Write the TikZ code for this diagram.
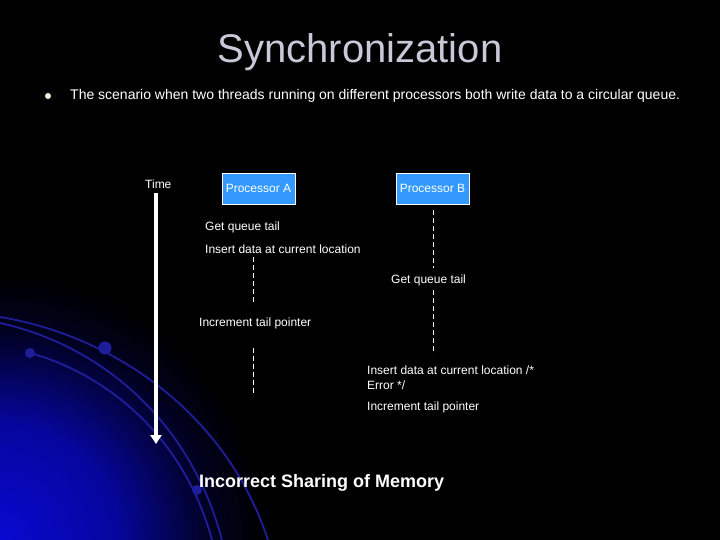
\documentclass[tikz,border=0pt]{standalone}
\usepackage{fontspec}
\setmainfont{Liberation Sans}
\usepackage{xcolor}
\usetikzlibrary{positioning,arrows.meta}

\definecolor{titlegray}{RGB}{200,200,216}
\definecolor{procblue}{RGB}{51,153,255}
\definecolor{glowblue}{RGB}{8,8,210}
\definecolor{arcblue}{RGB}{30,30,155}
\definecolor{dotcream}{RGB}{240,240,215}
\pgfdeclareradialshading{cornerglow}{\pgfpoint{0bp}{0bp}}{color(0bp)=(glowblue); color(11bp)=(glowblue!75!black); color(20bp)=(glowblue!15!black); color(25bp)=(black); color(50bp)=(black)}

\begin{document}
\begin{tikzpicture}[x=1pt,y=-1pt,
	proc/.style={draw=white,fill=procblue,text=white,font=\fontsize{12}{14}\selectfont,minimum width=73pt,minimum height=31pt,inner sep=0pt},
	note/.style={text=white,font=\fontsize{12}{15}\selectfont,anchor=west,inner sep=0pt,align=left},
	lifeline/.style={white,line width=1pt,dash pattern=on 5pt off 3pt},
	swirl/.style={arcblue,line width=1.8pt}]
	
	\useasboundingbox (0,0) rectangle (720,540);
	\fill[black] (0,0) rectangle (720,540);
	
	% corner glow
	\begin{scope}
		\clip (0,0) rectangle (720,540);
		\shade[shading=cornerglow] (0,540) circle (265);
		\draw[swirl] (0,317) .. controls (110,335) and (225,410) .. (268,540);
		\draw[swirl] (0,323) .. controls (100,345) and (190,420) .. (222,540);
		\draw[swirl] (30,353) .. controls (110,375) and (185,440) .. (212,540);
		\fill[arcblue] (105,348) circle (6.5);
		\fill[arcblue] (30,353) circle (5);
		\fill[arcblue] (197,490) circle (5);
	\end{scope}
	
	\node[text=titlegray,font=\fontsize{40}{48}\selectfont] (title) at (360,52) {Synchronization};
	
	\fill[dotcream] (48,96) circle (3);
	\node[note,font=\fontsize{14}{16}\selectfont] (intro) at (70,96)
	{The scenario when two threads running on different processors both write data to a circular queue.};
	
	\node[note] (time) at (145,184) {Time};
	\coordinate (timetop) at (156,193);
	\coordinate (timebot) at (156,444);
	\draw[white,line width=3.5pt,-{Triangle[width=11pt,length=9pt]}] (timetop) -- (timebot);
	
	\node[proc] (procA) at (258.5,188.5) {Processor A};
	\node[proc] (procB) at (432.5,188.5) {Processor B};
	
	\node[note] (getA) at (205,227) {Get queue tail};
	\node[note] (insA) at (205,249) {Insert data at current location};
	\node[note] (getB) at (391,280) {Get queue tail};
	\node[note] (incA) at (199,323) {Increment tail pointer};
	\node[note] (insB) at (367,378) {Insert data at current location /*\\Error */};
	\node[note] (incB) at (367,407) {Increment tail pointer};
	
	\coordinate (a1) at (253,257);
	\coordinate (a2) at (253,305);
	\coordinate (a3) at (253,348);
	\coordinate (a4) at (253,395);
	\coordinate (b1) at (433,210);
	\coordinate (b2) at (433,268);
	\coordinate (b3) at (433,290);
	\coordinate (b4) at (433,354);
	\draw[lifeline] (a1) -- (a2);
	\draw[lifeline] (a3) -- (a4);
	\draw[lifeline] (b1) -- (b2);
	\draw[lifeline] (b3) -- (b4);
	
	\node[note,font=\bfseries\fontsize{18}{20}\selectfont] (summary) at (199,483) {Incorrect Sharing of Memory};
	
\end{tikzpicture}
\end{document}
